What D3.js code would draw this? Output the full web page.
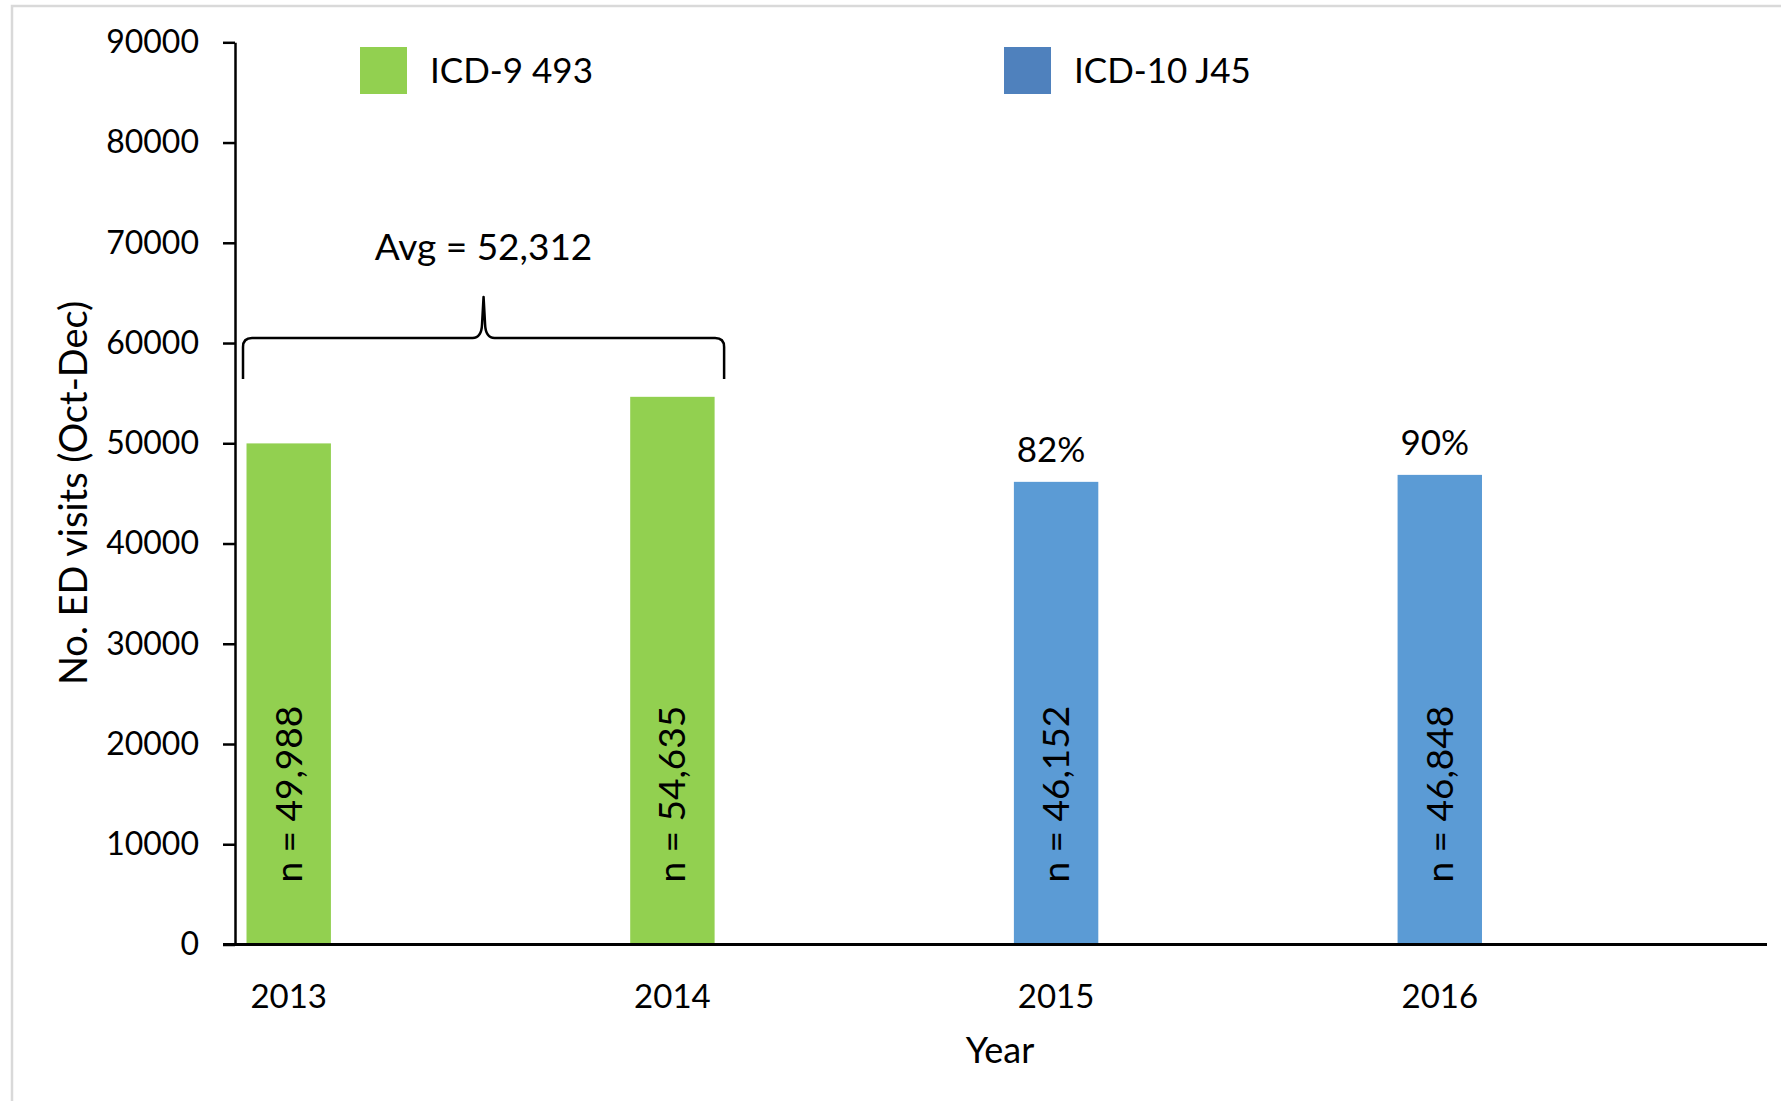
<!DOCTYPE html>
<html>
<head>
<meta charset="utf-8">
<script src="https://cdn.jsdelivr.net/npm/d3@7"></script>
<style>
  html, body { margin: 0; padding: 0; background: #fff; }
  svg { display: block; }
  text { font-family: Lato, "Open Sans", sans-serif; fill: #000; }
</style>
</head>
<body>
<svg id="chart" width="1781" height="1101"></svg>
<script>
// Quarterly (Oct-Dec) asthma ED visit counts by year and coding system
const years = ["2013", "2014", "2015", "2016"];
const visits = [49988, 54635, 46152, 46848];
const codeSystem = ["ICD-9 493", "ICD-9 493", "ICD-10 J45", "ICD-10 J45"];
const percentLabels = [null, null, "82%", "90%"];
const yTicks = [0, 10000, 20000, 30000, 40000, 50000, 60000, 70000, 80000, 90000];
const legendItems = ["ICD-9 493", "ICD-10 J45"];

const barColor = { "ICD-9 493": "#92D050", "ICD-10 J45": "#5B9BD5" };
const legendColor = { "ICD-9 493": "#92D050", "ICD-10 J45": "#4F81BD" };

const svg = d3.select("#chart");

// outer frame (open on the right and bottom)
svg.append("rect")
  .attr("x", 12).attr("y", 6)
  .attr("width", 1800).attr("height", 1120)
  .attr("fill", "none")
  .attr("stroke", "#D9D9D9")
  .attr("stroke-width", 2.5);

const axisX = 235;
const y = d3.scaleLinear().domain([0, 90000]).range([944.5, 42.3]);
const x = d3.scaleBand()
  .domain(years)
  .range([axisX, 1493.5])
  .paddingInner(0.78)
  .paddingOuter(0.03);

// bars
const rows = years.map((yr, i) => ({ yr, v: visits[i], code: codeSystem[i], pct: percentLabels[i] }));

svg.append("g").selectAll("rect")
  .data(rows)
  .join("rect")
  .attr("x", d => x(d.yr))
  .attr("y", d => y(d.v))
  .attr("width", x.bandwidth())
  .attr("height", d => y(0) - y(d.v))
  .attr("fill", d => barColor[d.code]);

// rotated count labels inside bars
const fmt = d3.format(",");
svg.append("g").selectAll("text")
  .data(rows)
  .join("text")
  .attr("transform", d => `translate(${x(d.yr) + x.bandwidth() / 2 + 13},${y(0) - 62}) rotate(-90)`)
  .attr("font-size", 37)
  .text(d => `n = ${fmt(d.v)}`);

// percentage labels above ICD-10 bars
svg.append("g").selectAll("text")
  .data(rows.filter(d => d.pct))
  .join("text")
  .attr("x", d => x(d.yr) + x.bandwidth() / 2 - 5)
  .attr("y", d => y(d.v) - 20)
  .attr("text-anchor", "middle")
  .attr("font-size", 35)
  .text(d => d.pct);

// y axis
const yAxis = d3.axisLeft(y)
  .tickValues(yTicks)
  .tickFormat(d3.format("d"))
  .tickSize(12)
  .tickSizeOuter(0)
  .tickPadding(24);

const gy = svg.append("g")
  .attr("transform", `translate(${axisX},0)`)
  .call(yAxis);
gy.select(".domain").attr("stroke", "#000").attr("stroke-width", 2.5);
gy.selectAll(".tick line").attr("stroke", "#000").attr("stroke-width", 2.5);
gy.selectAll(".tick text")
  .attr("font-family", "Lato, 'Open Sans', sans-serif")
  .attr("font-size", 32)
  .attr("fill", "#000");

// x axis
const xAxis = d3.axisBottom(x).tickSize(0).tickPadding(0);
const gx = svg.append("g")
  .attr("transform", `translate(0,${y(0)})`)
  .call(xAxis);
gx.select(".domain").remove();
gx.selectAll(".tick text")
  .attr("font-family", "Lato, 'Open Sans', sans-serif")
  .attr("font-size", 33)
  .attr("fill", "#000")
  .attr("dy", 0)
  .attr("y", 63);

svg.append("line")
  .attr("x1", axisX - 12).attr("x2", 1767)
  .attr("y1", y(0)).attr("y2", y(0))
  .attr("stroke", "#000")
  .attr("stroke-width", 3);

// axis titles
svg.append("text")
  .attr("x", 1000).attr("y", 1063)
  .attr("text-anchor", "middle")
  .attr("font-size", 36)
  .text("Year");

svg.append("text")
  .attr("transform", "translate(87,493) rotate(-90)")
  .attr("text-anchor", "middle")
  .attr("font-size", 38)
  .text("No. ED visits (Oct-Dec)");

// legend
const legendX = [360, 1004];
const lg = svg.append("g").selectAll("g")
  .data(legendItems)
  .join("g")
  .attr("transform", (d, i) => `translate(${legendX[i]},47)`);
lg.append("rect")
  .attr("width", 47).attr("height", 47)
  .attr("fill", d => legendColor[d]);
lg.append("text")
  .attr("x", 70).attr("y", 36)
  .attr("font-size", 35)
  .text(d => d);

// curly brace spanning the ICD-9 years, with their average
const icd9 = rows.filter(d => d.code === "ICD-9 493");
const avg = d3.mean(icd9, d => d.v);
const bx0 = x(icd9[0].yr) - 3.5;
const bx1 = x(icd9[icd9.length - 1].yr) + x.bandwidth() + 9.5;
const bm = (bx0 + bx1) / 2;
const yBase = y(56400), yTop = y(60500), yPeak = y(64600);
const r = 9;

const p = d3.path();
p.moveTo(bx0, yBase);
p.lineTo(bx0, yTop + r);
p.quadraticCurveTo(bx0, yTop, bx0 + r, yTop);
p.lineTo(bm - 11, yTop);
p.quadraticCurveTo(bm - 2, yTop, bm - 1.5, yTop - 14);
p.lineTo(bm, yPeak);
p.lineTo(bm + 1.5, yTop - 14);
p.quadraticCurveTo(bm + 2, yTop, bm + 11, yTop);
p.lineTo(bx1 - r, yTop);
p.quadraticCurveTo(bx1, yTop, bx1, yTop + r);
p.lineTo(bx1, yBase);

svg.append("path")
  .attr("d", p.toString())
  .attr("fill", "none")
  .attr("stroke", "#000")
  .attr("stroke-width", 2.5)
  .attr("stroke-linejoin", "round");

svg.append("text")
  .attr("x", bm)
  .attr("y", 260)
  .attr("text-anchor", "middle")
  .attr("font-size", 37)
  .text(`Avg = ${fmt(Math.round(avg))}`);
</script>
</body>
</html>
